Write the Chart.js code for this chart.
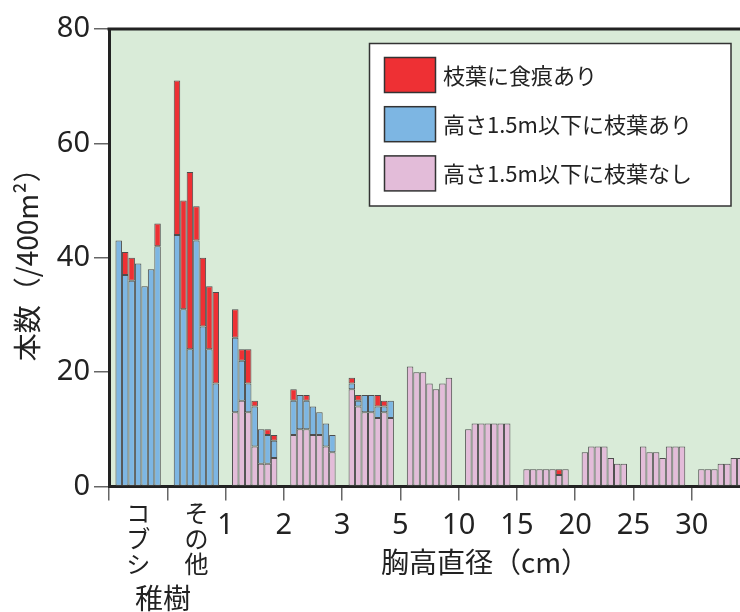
<!DOCTYPE html>
<html lang="ja">
<head>
<meta charset="utf-8">
<title>胸高直径別本数</title>
<script src="https://cdn.jsdelivr.net/npm/chart.js@4.4.1/dist/chart.umd.min.js"></script>
<style>
  html, body { margin: 0; padding: 0; background: #fff; overflow: hidden; }
  #wrap { width: 752px; height: 612px; }
</style>
</head>
<body>
<div id="wrap"><canvas id="myChart" width="752" height="612"></canvas></div>
<script>
// classes: seedlings (コブシ, その他) then DBH classes, 7 plots each
const classNames = ['コブシ', 'その他', '1', '2', '3', '5', '10', '15', '20', '25', '30'];
const dbhTicks = ['1', '2', '3', '5', '10', '15', '20', '25', '30'];
const seedlingNames = ['コブシ', 'その他'];
const seedlingTitle = '稚樹';
const xTitle = '胸高直径（cm）';
const yTitle = '本数（/400m²）';
const yTicks = [0, 20, 40, 60, 80];
const seriesLabels = ['枝葉に食痕あり', '高さ1.5m以下に枝葉あり', '高さ1.5m以下に枝葉なし'];

// 高さ1.5m以下に枝葉なし
const noBranch = [
    [0, 0, 0, 0, 0, 0, 0],
    [0, 0, 0, 0, 0, 0, 0],
    [13, 15, 13, 7, 4, 4, 5],
    [9, 10, 10, 9, 9, 7, 6],
    [17, 14, 13, 13, 12, 13, 12],
    [21, 20, 20, 18, 17, 18, 19],
    [10, 11, 11, 11, 11, 11, 11],
    [3, 3, 3, 3, 3, 2, 3],
    [6, 7, 7, 7, 5, 4, 4],
    [7, 6, 6, 5, 7, 7, 7],
    [3, 3, 3, 4, 4, 5, 5]
];
// 高さ1.5m以下に枝葉あり
const lowBranch = [
    [43, 37, 36, 39, 35, 38, 42],
    [44, 31, 24, 43, 28, 24, 18],
    [13, 7, 5, 7, 6, 5, 3],
    [6, 6, 5, 5, 4, 4, 3],
    [1, 1, 3, 3, 2, 1, 3],
    [0, 0, 0, 0, 0, 0, 0],
    [0, 0, 0, 0, 0, 0, 0],
    [0, 0, 0, 0, 0, 0, 0],
    [0, 0, 0, 0, 0, 0, 0],
    [0, 0, 0, 0, 0, 0, 0],
    [0, 0, 0, 0, 0, 0, 0]
];
// 枝葉に食痕あり
const browsed = [
    [0, 4, 4, 0, 0, 0, 4],
    [27, 19, 31, 6, 12, 11, 16],
    [5, 2, 6, 1, 0, 1, 1],
    [2, 0, 1, 0, 0, 0, 0],
    [1, 1, 0, 0, 2, 1, 0],
    [0, 0, 0, 0, 0, 0, 0],
    [0, 0, 0, 0, 0, 0, 0],
    [0, 0, 0, 0, 0, 1, 0],
    [0, 0, 0, 0, 0, 0, 0],
    [0, 0, 0, 0, 0, 0, 0],
    [0, 0, 0, 0, 0, 0, 0]
];

const colors = ['#ee3034', '#7db6e3', '#e3bcd9'];
const cjk = "'Noto Sans CJK JP', 'Noto Sans', sans-serif";
const digits = "'Noto Sans', 'Noto Sans CJK JP', sans-serif";

// one empty slot on each side of every class
function buildSlots(groups){
    const out = [];
    groups.forEach(g => {
        out.push(null);
        g.forEach(v => out.push(v || null));
        out.push(null);
    });
    return out;
}

function buildLabels(){
    const out = [];
    classNames.forEach(name => {
        out.push('');
        for (let i = 1; i <= 7; i++) out.push(name + '-' + i);
        out.push('');
    });
    return out;
}

const bgPlugin = {
    id: 'bg',
    beforeDraw(chart){
        const {ctx, chartArea} = chart;
        ctx.save();
        ctx.fillStyle = '#d9ebd8';
        ctx.fillRect(chartArea.left, chartArea.top, chartArea.right - chartArea.left, chartArea.bottom - chartArea.top);
        ctx.restore();
    },
    afterDraw(chart){
        const {ctx, chartArea} = chart;
        ctx.save();
        ctx.strokeStyle = '#222';
        ctx.lineWidth = 3;
        ctx.beginPath();
        ctx.moveTo(chartArea.left - 1.5, chartArea.top);
        ctx.lineTo(chartArea.right, chartArea.top);
        ctx.stroke();
        ctx.restore();
    }
};

const legendBox = {
    id: 'legendBox',
    afterDraw(chart){
        const c = chart.ctx;
        const items = chart.data.datasets.slice().reverse();
        c.save();
        c.fillStyle = '#fff';
        c.strokeStyle = '#333';
        c.lineWidth = 1.5;
        c.fillRect(369.5, 43.5, 361.5, 162.5);
        c.strokeRect(369.5, 43.5, 361.5, 162.5);
        items.forEach((ds, i) => {
            const y = 57.5 + i * 49.2;
            c.fillStyle = ds.backgroundColor;
            c.fillRect(384.5, y, 51, 35);
            c.strokeRect(384.5, y, 51, 35);
            c.fillStyle = '#222';
            c.font = '22px ' + cjk;
            c.textAlign = 'left';
            c.textBaseline = 'middle';
            c.fillText(ds.label, 443, y + 18);
        });
        c.restore();
    }
};

const textPlugin = {
    id: 'extraText',
    afterDraw(chart){
        const c = chart.ctx;
        c.save();
        c.fillStyle = '#222';
        c.textAlign = 'center';
        c.textBaseline = 'middle';
        c.font = '28px ' + cjk;
        c.fillText(xTitle, 485, 562);
        c.fillText(seedlingTitle, 163, 598);
        c.restore();
    }
};

function xTickLabel(value){
    if (value < 2) {
        if (value % 1 === 0.5) return seedlingNames[Math.floor(value)].split('');
        return '';
    }
    if (value % 1 !== 0) return '';
    return dbhTicks[value - 2] || '';
}

function drawChart(target){
    const ctx = document.getElementById(target);
    return new Chart(ctx, {
        type: 'bar',
        data: {
            labels: buildLabels(),
            datasets: [
                { label: seriesLabels[2], data: buildSlots(noBranch), backgroundColor: colors[2] },
                { label: seriesLabels[1], data: buildSlots(lowBranch), backgroundColor: colors[1] },
                { label: seriesLabels[0], data: buildSlots(browsed), backgroundColor: colors[0] }
            ]
        },
        options: {
            responsive: false,
            animation: false,
            layout: { padding: { top: 29, right: 2, left: 0, bottom: 0 } },
            datasets: {
                bar: {
                    barPercentage: 1,
                    categoryPercentage: 1,
                    borderWidth: 1,
                    borderColor: '#4d4d4d',
                    borderSkipped: false,
                    inflateAmount: 0
                }
            },
            plugins: { legend: { display: false }, tooltip: { enabled: false } },
            scales: {
                x: { display: false, stacked: true },
                x2: {
                    axis: 'x',
                    type: 'linear',
                    position: 'bottom',
                    min: 0,
                    max: 11,
                    offset: false,
                    z: 1,
                    grid: {
                        offset: false,
                        drawOnChartArea: false,
                        tickLength: 14,
                        lineWidth: 1.5,
                        tickColor: c => (c.tick && c.tick.value % 1 === 0) ? '#666' : 'rgba(0,0,0,0)'
                    },
                    border: { display: true, color: '#222', width: 3 },
                    ticks: {
                        stepSize: 0.5,
                        autoSkip: false,
                        maxRotation: 0,
                        padding: 0,
                        color: '#222',
                        callback: xTickLabel,
                        font: c => (c.tick && c.tick.value < 2)
                            ? { family: cjk, size: 24, lineHeight: 1.06 }
                            : { family: digits, size: 29, lineHeight: 1.75 }
                    },
                    afterFit: s => { s.height = 125.5; }
                },
                y: {
                    stacked: true,
                    min: 0,
                    max: 80,
                    z: 1,
                    afterBuildTicks: s => { s.ticks = yTicks.map(v => ({ value: v })); },
                    grid: { drawOnChartArea: false, tickLength: 15, lineWidth: 1.5, tickColor: '#666' },
                    border: { display: true, color: '#222', width: 3 },
                    ticks: { padding: 4, color: '#222', font: { family: digits, size: 29 } },
                    title: {
                        display: true,
                        text: yTitle,
                        color: '#222',
                        font: { family: cjk, size: 28 },
                        padding: { top: 11, bottom: 0 }
                    },
                    afterFit: s => { s.width = 109; }
                }
            }
        },
        plugins: [bgPlugin, legendBox, textPlugin]
    });
}

drawChart('myChart');
</script>
</body>
</html>
